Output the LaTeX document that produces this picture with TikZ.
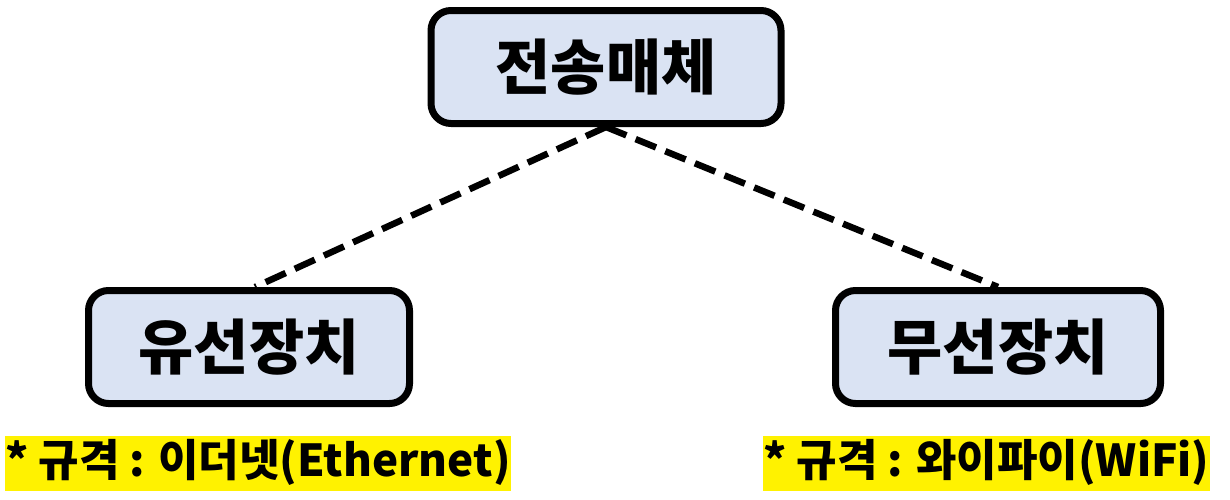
\documentclass[tikz,border=0pt]{standalone}
\usepackage{fontspec}
\setmainfont{Noto Sans CJK KR}
\begin{document}
\begin{tikzpicture}[x=1pt,y=-1pt,
  box/.style={draw=black,line width=7pt,fill=boxfill,rounded corners=20pt,
    minimum width=#1,minimum height=113pt,inner sep=0pt,
    font=\fontsize{60}{62}\selectfont\bfseries},
  box/.default=320pt,
  note/.style={fill=yellow,inner sep=0pt,text height=41pt,text depth=14pt,
    font=\fontsize{44}{48}\selectfont\bfseries},
  link/.style={line width=6.5pt,dash pattern=on 22pt off 10pt}]
\definecolor{boxfill}{HTML}{DAE3F3}
\useasboundingbox (0,0) rectangle (1230,499);
\node[box=350pt] (top) at (606,67) {전송매체};
\node[box=321pt] (left) at (249,347) {유선장치};
\node[box=325pt] (right) at (998,347) {무선장치};
\coordinate (lt) at (255,287);
\draw[link] (top.south) -- (left.north -| lt);
\draw[link] (top.south) -- (right.north);
\node[note,anchor=west] (ln) at (5,463) {* 규격 : 이더넷(Ethernet)};
\node[note,anchor=west] (rn) at (763,463) {* 규격 : 와이파이(WiFi)\hspace{14pt}};
\end{tikzpicture}
\end{document}
